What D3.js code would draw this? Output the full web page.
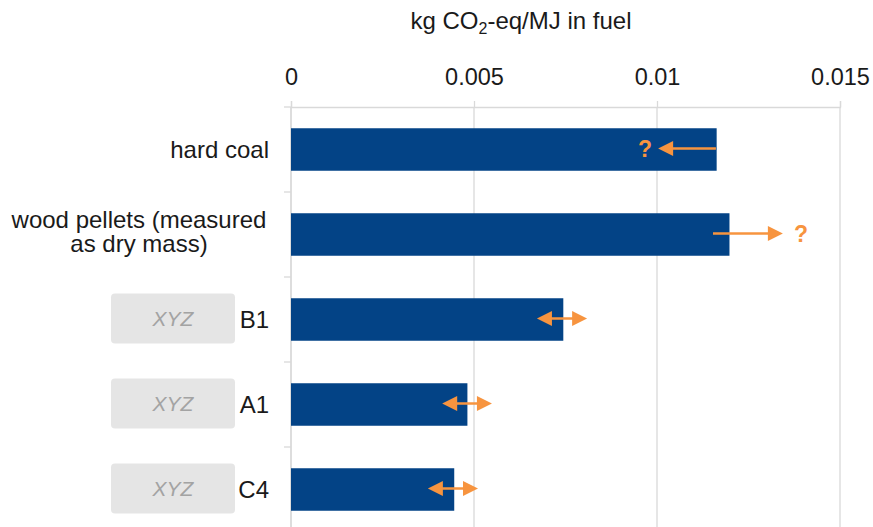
<!DOCTYPE html>
<html>
<head>
<meta charset="utf-8">
<script src="https://cdn.jsdelivr.net/npm/d3@7"></script>
<style>
  html, body { margin: 0; padding: 0; background: #ffffff; }
  svg { display: block; font-family: "Liberation Sans", Arial, sans-serif; }
</style>
</head>
<body>
<svg id="chart" width="873" height="527"></svg>
<script>
// ---- data ----
const categories = ["hard coal", "wood pellets (measured as dry mass)", "B1", "A1", "C4"];
const labelLines = [["hard coal"], ["wood pellets (measured", "as dry mass)"], ["B1"], ["A1"], ["C4"]];
const values = [0.01163, 0.01198, 0.00744, 0.00482, 0.00446];
// uncertainty arrows: start / end values and type
const arrowFrom = [0.01161, 0.01153, 0.00672, 0.00413, 0.00374];
const arrowTo   = [0.01003, 0.01344, 0.00809, 0.00549, 0.00511];
const arrowType = ["left", "right", "both", "both", "both"];
const arrowNote = ["?", "?", "", "", ""];
const hasPlaceholder = [false, false, true, true, true];
const placeholderText = "XYZ";
const tickValues = [0, 0.005, 0.01, 0.015];
const tickLabels = ["0", "0.005", "0.01", "0.015"];
const xDomain = [0, 0.015];

// ---- layout ----
const svg = d3.select("#chart");
const barColor = "#034386";
const orange = "#F7943F";
const gridColor = "#d9d9d9";
const textColor = "#1a1a1a";

const x = d3.scaleLinear().domain(xDomain).range([291, 840]);
const y = d3.scaleBand().domain(categories).range([107, 532]).paddingInner(0.5).paddingOuter(0.25);

// gridlines
svg.append("g").selectAll("line").data(tickValues).join("line")
  .attr("x1", d => x(d)).attr("x2", d => x(d))
  .attr("y1", 107).attr("y2", 527)
  .attr("stroke", gridColor).attr("stroke-width", 1.3);

// top axis
const xAxis = d3.axisTop(x).tickValues(tickValues)
  .tickFormat((d, i) => tickLabels[i]).tickSize(6).tickPadding(16);
const gx = svg.append("g").attr("transform", "translate(0,107)").call(xAxis);
gx.select(".domain").attr("stroke", gridColor).attr("stroke-width", 1.3);
gx.selectAll(".tick line").attr("stroke", gridColor).attr("stroke-width", 1.3);
gx.selectAll(".tick text").attr("fill", textColor).attr("font-size", 23.5)
  .attr("font-family", "Liberation Sans, Arial, sans-serif");

// left axis line & boundary ticks
svg.append("line").attr("x1", x(0)).attr("x2", x(0)).attr("y1", 107).attr("y2", 527)
  .attr("stroke", gridColor).attr("stroke-width", 1.3);
const step = y.step();
const boundaries = categories.map(c => y(c) - (step - y.bandwidth()) / 2);
svg.append("g").selectAll("line").data(boundaries).join("line")
  .attr("x1", x(0) - 7).attr("x2", x(0))
  .attr("y1", d => d).attr("y2", d => d)
  .attr("stroke", gridColor).attr("stroke-width", 1.3);

// bars
svg.append("g").selectAll("rect").data(categories).join("rect")
  .attr("x", x(0))
  .attr("y", d => y(d))
  .attr("width", (d, i) => x(values[i]) - x(0))
  .attr("height", y.bandwidth())
  .attr("fill", barColor);

// title
const title = svg.append("text").attr("x", 521).attr("y", 29)
  .attr("text-anchor", "middle").attr("font-size", 24).attr("fill", textColor);
title.append("tspan").text("kg CO");
title.append("tspan").attr("font-size", 16).attr("dy", 5).text("2");
title.append("tspan").attr("dy", -5).text("-eq/MJ in fuel");

// category labels
categories.forEach((c, i) => {
  const cy = y(c) + y.bandwidth() / 2;
  const lines = labelLines[i];
  if (lines.length === 1) {
    svg.append("text").attr("x", 269).attr("y", cy + 8.5)
      .attr("text-anchor", "end").attr("font-size", 24).attr("fill", textColor).text(lines[0]);
  } else {
    const t = svg.append("text").attr("text-anchor", "middle").attr("font-size", 24).attr("fill", textColor);
    lines.forEach((l, j) => {
      t.append("tspan").attr("x", 139).attr("y", cy - 7 + j * 24.5).text(l);
    });
  }
  if (hasPlaceholder[i]) {
    svg.append("rect").attr("x", 111).attr("y", cy - 26).attr("width", 124).attr("height", 50)
      .attr("rx", 4).attr("fill", "#e5e5e5");
    svg.append("text").attr("x", 173).attr("y", cy + 6)
      .attr("text-anchor", "middle").attr("font-size", 21).attr("font-style", "italic")
      .attr("fill", "#a3a3a3").text(placeholderText);
  }
});

// arrows
const headLen = 15, headHalf = 7.5;
function head(tipX, cy, dir) {
  // dir: -1 pointing left, +1 pointing right
  const bx = tipX - dir * headLen;
  return `M${tipX},${cy}L${bx},${cy - headHalf}L${bx},${cy + headHalf}Z`;
}
categories.forEach((c, i) => {
  const cy = y(c) + y.bandwidth() / 2 - 1;
  const x1 = x(arrowFrom[i]), x2 = x(arrowTo[i]);
  const type = arrowType[i];
  const g = svg.append("g");
  let lx1 = x1, lx2 = x2;
  if (type === "left") lx2 = x2 + headLen - 1;
  if (type === "right") lx2 = x2 - headLen + 1;
  if (type === "both") { lx1 = x1 + headLen - 1; lx2 = x2 - headLen + 1; }
  g.append("line").attr("x1", lx1).attr("x2", lx2).attr("y1", cy).attr("y2", cy)
    .attr("stroke", orange).attr("stroke-width", 2.5);
  if (type === "left") g.append("path").attr("d", head(x2, cy, -1)).attr("fill", orange);
  if (type === "right") g.append("path").attr("d", head(x2, cy, 1)).attr("fill", orange);
  if (type === "both") {
    g.append("path").attr("d", head(x1, cy, -1)).attr("fill", orange);
    g.append("path").attr("d", head(x2, cy, 1)).attr("fill", orange);
  }
  if (arrowNote[i]) {
    const tx = type === "left" ? x2 - 6 : x2 + 11;
    g.append("text").attr("x", tx).attr("y", cy + 8.5)
      .attr("text-anchor", type === "left" ? "end" : "start")
      .attr("font-size", 23).attr("font-weight", "bold").attr("fill", orange).text(arrowNote[i]);
  }
});
</script>
</body>
</html>
